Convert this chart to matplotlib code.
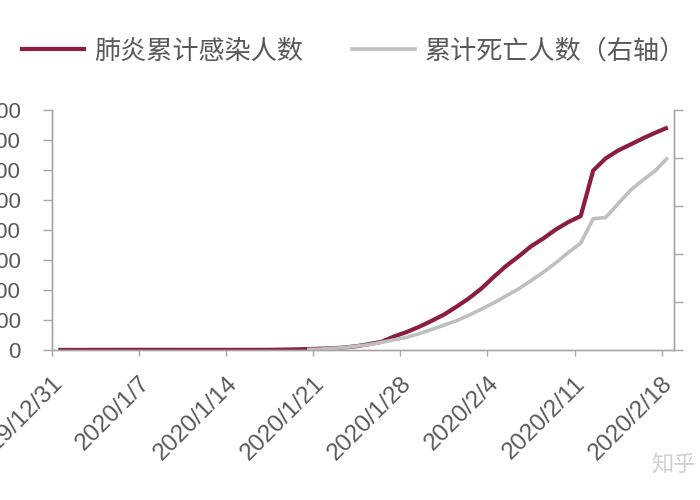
import numpy as np
import pandas as pd
import matplotlib
matplotlib.use("Agg")
import matplotlib.pyplot as plt
from matplotlib.lines import Line2D

plt.rcParams['font.family'] = ['Liberation Sans', 'Noto Sans CJK SC', 'DejaVu Sans']

# 2019/12/31 .. 2020/2/18, one value per day
dates = pd.date_range("2019-12-31", "2020-02-18", freq="D")

cases = [
    27, 27, 27, 44, 44, 59, 59, 59, 59, 59,
    41, 41, 41, 41, 41, 41, 45, 62, 121, 198,
    291, 440, 571, 830, 1287, 1975, 2744, 4515, 5974, 7711,
    9692, 11791, 14380, 17205, 20438, 24324, 28018, 31161, 34546, 37198,
    40171, 42638, 44653, 59804, 63851, 66492, 68500, 70548, 72436, 74185,
]

deaths = [np.nan] * 20 + [
    6, 9, 17, 25, 41, 56, 80, 106, 132, 170,
    213, 259, 304, 361, 425, 490, 563, 636, 722, 811,
    908, 1016, 1113, 1367, 1380, 1523, 1665, 1770, 1868, 2004,
]

label_cases = "肺炎累计感染人数"
label_deaths = "累计死亡人数（右轴）"

left_ticks = np.arange(0, 80001, 10000)
right_ticks = np.arange(0, 2501, 500)
x_tick_dates = dates[::7]

COLOR_CASES = "#8B1C42"
COLOR_DEATHS = "#BFBFBF"
COLOR_AXIS = "#A6A6A6"
COLOR_TEXT = "#595959"

fig = plt.figure(figsize=(7, 5), dpi=100)
ax = fig.add_axes([0.0743, 0.30, 0.8886, 0.48])
ax2 = ax.twinx()

# Excel date axis: points sit in the middle of each day
x = dates + pd.Timedelta(hours=12)

ax.plot(x, cases, color=COLOR_CASES, linewidth=3.0, solid_capstyle="butt")
ax2.plot(x, deaths, color=COLOR_DEATHS, linewidth=2.6, solid_capstyle="butt")

ax.set_xlim(dates[0], dates[-1] + pd.Timedelta(days=1))
ax.set_ylim(0, 80000)
ax2.set_ylim(0, 2500)

ax.set_yticks(left_ticks)
ax.set_yticklabels([str(v) for v in left_ticks])
ax2.set_yticks(right_ticks)
ax2.set_yticklabels([str(v) for v in right_ticks])

ax.set_xticks(x_tick_dates)
ax.set_xticklabels([f"{d.year}/{d.month}/{d.day}" for d in x_tick_dates],
                   rotation=45, ha="right", va="top", rotation_mode="anchor")

for a in (ax, ax2):
    a.spines["top"].set_visible(False)
    for s in ("left", "right", "bottom"):
        a.spines[s].set_color(COLOR_AXIS)
        a.spines[s].set_linewidth(1.0)

ax.tick_params(axis="y", direction="out", length=6.5, width=1.0, color=COLOR_AXIS,
               labelsize=16, labelcolor=COLOR_TEXT, pad=16)
ax.tick_params(axis="x", direction="out", length=4, width=1.0, color=COLOR_AXIS,
               labelsize=17.5, labelcolor=COLOR_TEXT, pad=12)
ax2.tick_params(axis="y", direction="out", length=6.5, width=1.0, color=COLOR_AXIS,
                labelsize=16, labelcolor=COLOR_TEXT, pad=14)

handles = [
    Line2D([0], [0], color=COLOR_CASES, linewidth=3.0, label=label_cases),
    Line2D([0], [0], color=COLOR_DEATHS, linewidth=2.6, label=label_deaths),
]
leg = fig.legend(handles=handles, loc="center left", bbox_to_anchor=(0.031, 0.898),
                 ncol=2, frameon=False, borderaxespad=0, borderpad=0,
                 handlelength=2.4, handletextpad=0.36, columnspacing=1.9,
                 prop={"family": ["Noto Sans CJK SC", "DejaVu Sans"], "size": 18.8})
for t in leg.get_texts():
    t.set_color(COLOR_TEXT)

fig.text(0.93, 0.07, "知乎", fontsize=16, color="#D0D0D0",
         family=["Noto Sans CJK SC", "DejaVu Sans"], va="center")

fig.savefig("out.png", dpi=100)
